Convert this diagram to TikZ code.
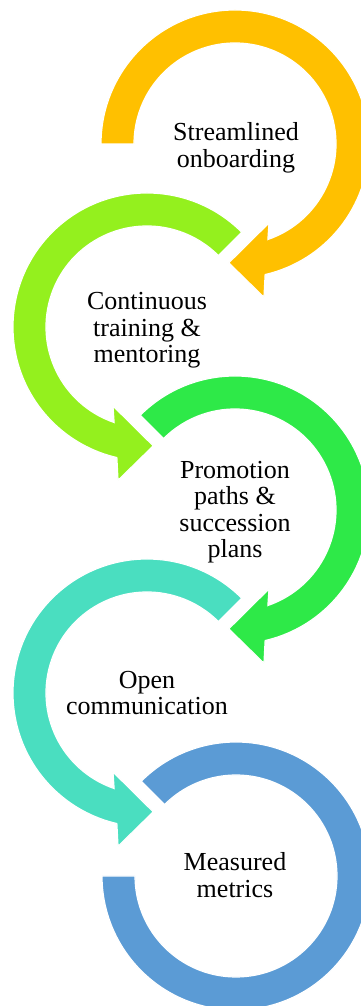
\documentclass[tikz,border=0pt]{standalone}
\usepackage{fontspec}
\setmainfont{Liberation Serif}
\definecolor{ringA}{RGB}{255,192,0}
\definecolor{ringB}{RGB}{148,240,30}
\definecolor{ringC}{RGB}{46,233,72}
\definecolor{ringD}{RGB}{74,222,192}
\definecolor{ringE}{RGB}{91,155,213}
\begin{document}
\begin{tikzpicture}[x=1pt,y=1pt,
  ring/.style={draw=white,line width=1.2pt,line join=miter},
  label/.style={align=center,font=\fontsize{26}{26.5}\selectfont,text=black,inner sep=0pt}]
\useasboundingbox (0,0) rectangle (361,1006);
\clip (0,0) rectangle (361,1006);
% ring centres
\coordinate (c1) at (235,862);
\coordinate (c2) at (147,679);
\coordinate (c3) at (235,496);
\coordinate (c4) at (147,313);
\coordinate (c5) at (236,130);
% 1: clockwise from the left, arrow head at the bottom
\begin{scope}[shift={(c1)}]
\path[ring,fill=ringA] (180:134) arc[start angle=180,end angle=-77,radius=134]
  -- (-79.3:156) -- (-93:119) -- (-66.7:86) -- (-71:101)
  arc[start angle=-71,end angle=180,radius=101] -- cycle;
\end{scope}
% 2: counter-clockwise
\begin{scope}[shift={(c2)}]
\path[ring,fill=ringB] (45:134) arc[start angle=45,end angle=257,radius=134]
  -- (259.3:156) -- (273:119) -- (246.7:86) -- (251:101)
  arc[start angle=251,end angle=45,radius=101] -- cycle;
\end{scope}
% 3: clockwise
\begin{scope}[shift={(c3)}]
\path[ring,fill=ringC] (135:134) arc[start angle=135,end angle=-77,radius=134]
  -- (-79.3:156) -- (-93:119) -- (-66.7:86) -- (-71:101)
  arc[start angle=-71,end angle=135,radius=101] -- cycle;
\end{scope}
% 4: counter-clockwise
\begin{scope}[shift={(c4)}]
\path[ring,fill=ringD] (45:134) arc[start angle=45,end angle=257,radius=134]
  -- (259.3:156) -- (273:119) -- (246.7:86) -- (251:101)
  arc[start angle=251,end angle=45,radius=101] -- cycle;
\end{scope}
% 5: open ring, no arrow head
\begin{scope}[shift={(c5)}]
\path[ring,fill=ringE] (135:134) arc[start angle=135,end angle=-180,radius=134]
  -- (-180:101) arc[start angle=-180,end angle=135,radius=101] -- cycle;
\end{scope}
% labels
\node[label] (t1) at (236,858) {Streamlined\\onboarding};
\node[label] (t2) at (147,675.7) {Continuous\\training \&\\mentoring};
\node[label] (t3) at (235,493.6) {Promotion\\paths \&\\succession\\plans};
\node[label] (t4) at (147,313) {Open\\communication};
\node[label] (t5) at (235,130.7) {Measured\\metrics};
\end{tikzpicture}
\end{document}
